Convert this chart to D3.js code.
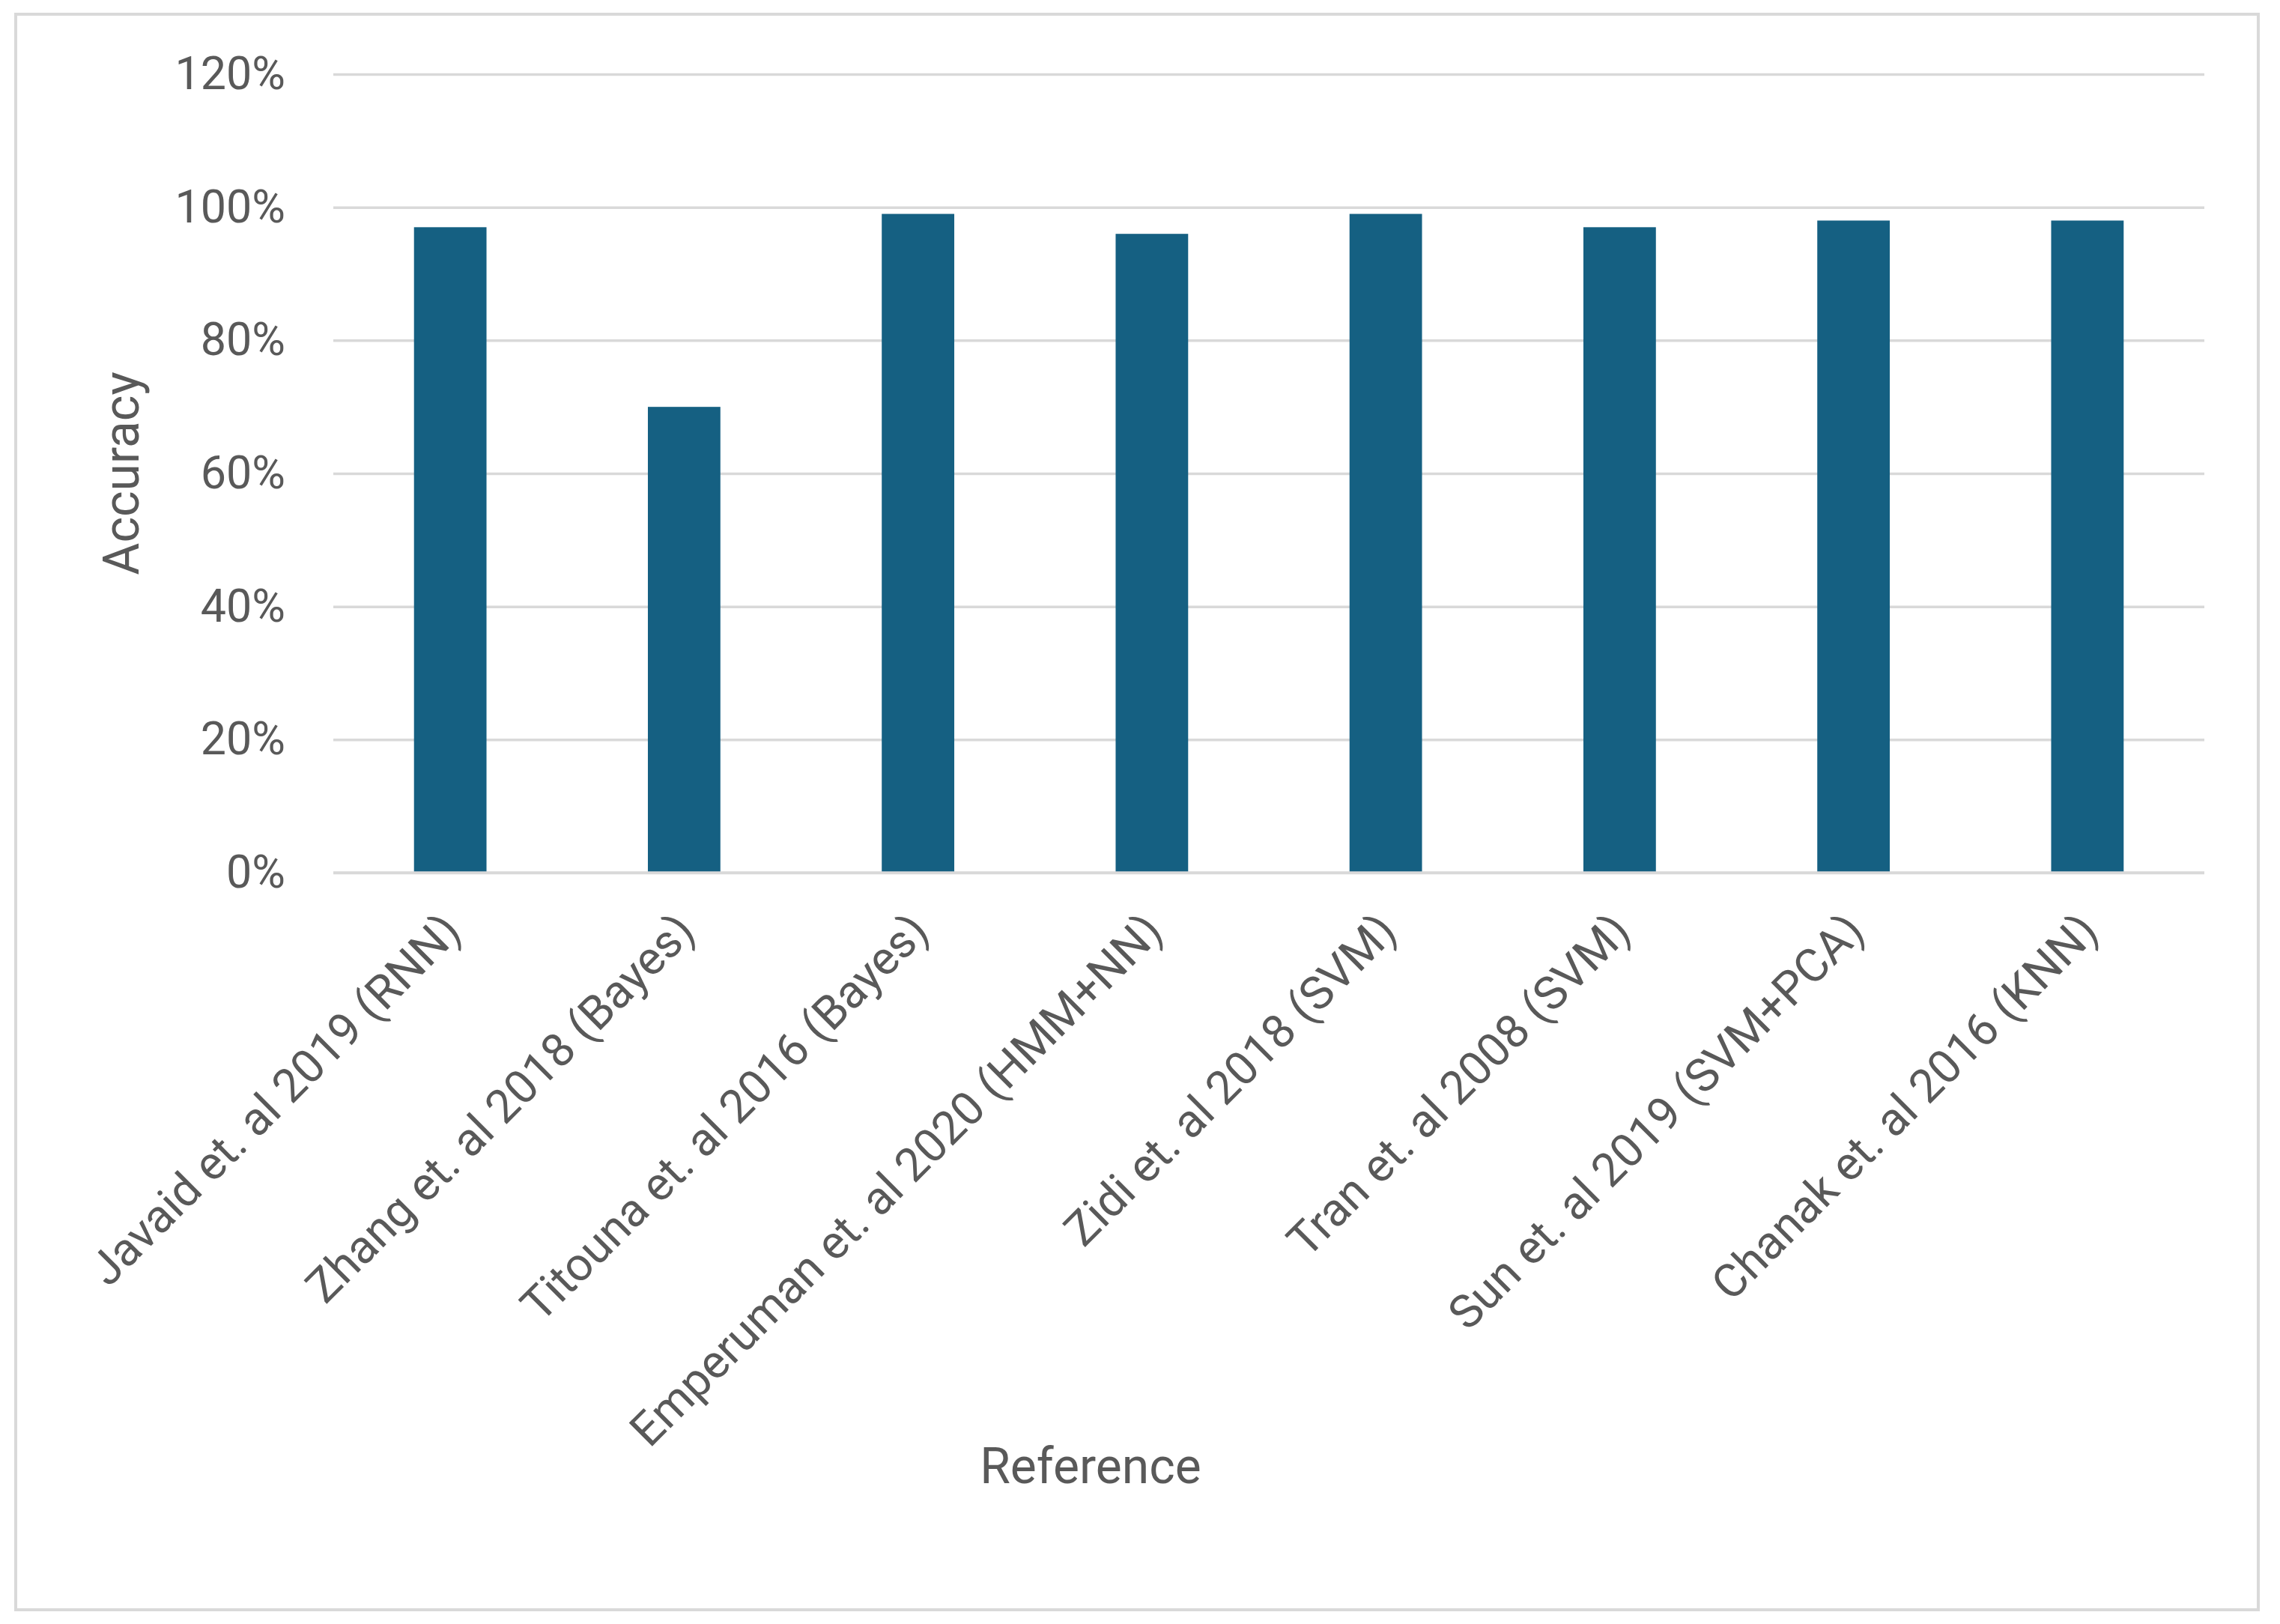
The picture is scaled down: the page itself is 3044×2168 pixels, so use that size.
<!DOCTYPE html>
<html>
<head>
<meta charset="utf-8">
<script src="https://cdn.jsdelivr.net/npm/d3@7"></script>
<style>
  html, body { margin: 0; padding: 0; background: #fff; }
  svg { display: block; }
  text { font-family: Roboto, "Open Sans", sans-serif; fill: #595959; }
</style>
</head>
<body>
<script>
const categories = [
  "Javaid et. al  2019 (RNN)",
  "Zhang et. al 2018 (Bayes)",
  "Titouna et. al 2016 (Bayes)",
  "Emperuman et. al 2020 (HMM+NN)",
  "Zidi et. al 2018 (SVM)",
  "Tran et. al 2008 (SVM)",
  "Sun et. al 2019 (SVM+PCA)",
  "Chanak et. al 2016 (KNN)"
];
const accuracy = [0.97, 0.70, 0.99, 0.96, 0.99, 0.97, 0.98, 0.98];
const yTicks = [0, 0.2, 0.4, 0.6, 0.8, 1.0, 1.2];
const xTitle = "Reference";
const yTitle = "Accuracy";

const W = 3044, H = 2168;
const plot = { left: 445, right: 2943, top: 99, bottom: 1165 };

const svg = d3.select("body").append("svg")
  .attr("width", W).attr("height", H);

svg.append("rect")
  .attr("x", 21).attr("y", 19)
  .attr("width", 2994).attr("height", 2130)
  .attr("fill", "#fff")
  .attr("stroke", "#D9D9D9").attr("stroke-width", 4);

const x = d3.scaleBand()
  .domain(categories)
  .range([plot.left, plot.right])
  .paddingInner(0.69).paddingOuter(0.345);

const y = d3.scaleLinear()
  .domain([0, 1.2])
  .range([plot.bottom, plot.top]);

const yAxis = d3.axisLeft(y)
  .tickValues(yTicks)
  .tickFormat(d3.format(".0%"))
  .tickSize(-(plot.right - plot.left))
  .tickPadding(64);

const gy = svg.append("g")
  .attr("transform", `translate(${plot.left},0)`)
  .call(yAxis);
gy.select(".domain").remove();
gy.selectAll(".tick line").attr("stroke", "#D9D9D9").attr("stroke-width", 3.5);
gy.selectAll(".tick text")
  .attr("font-size", 61)
  .attr("fill", "#595959")
  .attr("font-family", "Roboto, sans-serif");

svg.append("g").selectAll("rect")
  .data(categories)
  .join("rect")
  .attr("x", d => x(d))
  .attr("width", x.bandwidth())
  .attr("y", (d, i) => y(accuracy[i]))
  .attr("height", (d, i) => y(0) - y(accuracy[i]))
  .attr("fill", "#156082");

svg.append("line")
  .attr("x1", plot.left).attr("x2", plot.right)
  .attr("y1", y(0)).attr("y2", y(0))
  .attr("stroke", "#D9D9D9").attr("stroke-width", 3.5);

const xAxis = d3.axisBottom(x).tickSize(0).tickPadding(0);
const gx = svg.append("g")
  .attr("transform", `translate(0,${plot.bottom})`)
  .call(xAxis);
gx.select(".domain").remove();
gx.selectAll(".tick text")
  .attr("font-size", 62)
  .attr("fill", "#595959")
  .attr("font-family", "Roboto, sans-serif")
  .attr("text-anchor", "end")
  .attr("dy", "0.35em")
  .attr("transform", "translate(2,66) rotate(-45)");

svg.append("text")
  .attr("x", 1456)
  .attr("y", 1980)
  .attr("text-anchor", "middle")
  .attr("font-size", 66)
  .text(xTitle);

svg.append("text")
  .attr("transform", `translate(185,${(plot.top + plot.bottom) / 2}) rotate(-90)`)
  .attr("text-anchor", "middle")
  .attr("font-size", 66)
  .text(yTitle);
</script>
</body>
</html>
